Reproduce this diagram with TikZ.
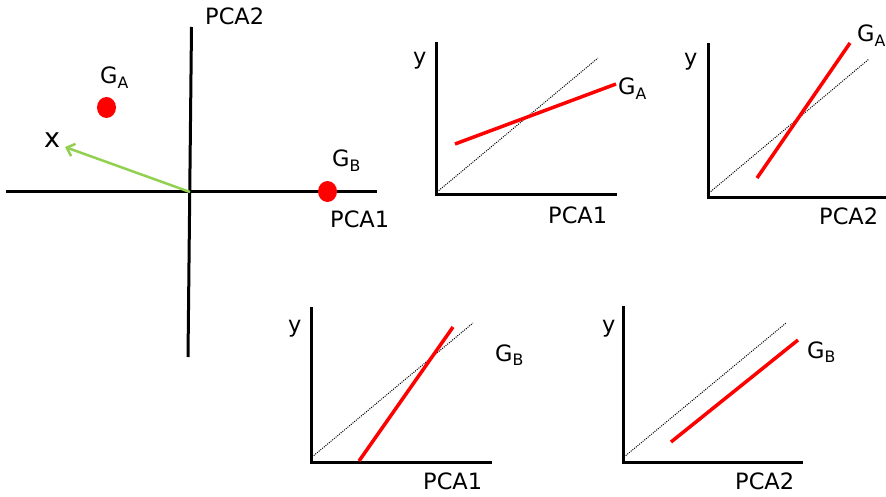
\documentclass[tikz,border=0pt]{standalone}
\usepackage{fontspec}
\setmainfont{DejaVu Sans}
\usetikzlibrary{arrows.meta}
\definecolor{arrowgreen}{RGB}{146,208,80}
\definecolor{dotred}{RGB}{255,0,0}
\tikzset{
  axisline/.style={line width=3pt, black},
  redline/.style={line width=3.5pt, dotred},
  diagline/.style={line width=1pt, dash pattern=on 1pt off 1.2pt, black},
  lbl/.style={anchor=base west, inner sep=0pt, font=\fontsize{22.5}{26}\selectfont},
  dotmark/.style={fill=dotred, draw=none},
}
\begin{document}
\begin{tikzpicture}[x=1pt,y=-1pt]
\useasboundingbox (0,0) rectangle (886,497);
% ---- main PCA plot ----
\coordinate (vt) at (191.5,27);
\coordinate (vb) at (188,357);
\coordinate (hl) at (6,192);
\coordinate (hr) at (377,192);
\coordinate (o) at (190,192);
\coordinate (xt) at (65,147);
\draw[axisline] (vt) -- (vb);
\draw[axisline] (hl) -- (hr);
\draw[arrowgreen, line width=2.5pt, -{Straight Barb[length=7pt,width=13pt]}] (o) -- (xt);
\node[lbl, font=\fontsize{27}{30}\selectfont] (xl) at (44,148) {x};
\fill[dotmark] (106.5,107.5) ellipse [x radius=9.5, y radius=10.5];
\fill[dotmark] (327.5,191.5) ellipse [x radius=9.5, y radius=10.5];
\node[lbl] (ga0) at (100,84) {G\textsubscript{A}};
\node[lbl] (gb0) at (332,167) {G\textsubscript{B}};
\node[lbl] (p2m) at (205,25) {PCA2};
\node[lbl] (p1m) at (330,228) {PCA1};
% ---- plot 2: y vs PCA1, G_A ----
\coordinate (a2t) at (436,42);
\coordinate (a2o) at (436,194.5);
\coordinate (a2r) at (617,194.5);
\draw[axisline] (a2t) -- (a2o) -- (a2r);
\coordinate (d2s) at (437,192);
\coordinate (d2e) at (598,58);
\draw[diagline] (d2s) -- (d2e);
\coordinate (r2s) at (455,144);
\coordinate (r2e) at (616,84);
\draw[redline] (r2s) -- (r2e);
\node[lbl] (ga2) at (618,95) {G\textsubscript{A}};
\node[lbl] (y2) at (413,65) {y};
\node[lbl] (p1b) at (548,224) {PCA1};
% ---- plot 3: y vs PCA2, G_A ----
\coordinate (a3t) at (708,43);
\coordinate (a3o) at (708,198);
\coordinate (a3r) at (886,198);
\draw[axisline] (a3t) -- (a3o) -- (a3r);
\coordinate (d3s) at (709,193);
\coordinate (d3e) at (869,59);
\draw[diagline] (d3s) -- (d3e);
\coordinate (r3s) at (757,178);
\coordinate (r3e) at (850,43);
\draw[redline] (r3s) -- (r3e);
\node[lbl] (ga3) at (857,42) {G\textsubscript{A}};
\node[lbl] (y3) at (684,66) {y};
\node[lbl] (p2b) at (819,225) {PCA2};
% ---- plot 4: y vs PCA1, G_B ----
\coordinate (a4t) at (311,307);
\coordinate (a4o) at (311,462);
\coordinate (a4r) at (492,462);
\draw[axisline] (a4t) -- (a4o) -- (a4r);
\coordinate (d4s) at (312,457);
\coordinate (d4e) at (473,323);
\draw[diagline] (d4s) -- (d4e);
\coordinate (r4s) at (359,461);
\coordinate (r4e) at (453,327);
\draw[redline] (r4s) -- (r4e);
\node[lbl] (gb4) at (495,361) {G\textsubscript{B}};
\node[lbl] (y4) at (288,332) {y};
\node[lbl] (p1c) at (423,489) {PCA1};
% ---- plot 5: y vs PCA2, G_B ----
\coordinate (a5t) at (623,306);
\coordinate (a5o) at (623,462);
\coordinate (a5r) at (803,462);
\draw[axisline] (a5t) -- (a5o) -- (a5r);
\coordinate (d5s) at (624,457);
\coordinate (d5e) at (786,323);
\draw[diagline] (d5s) -- (d5e);
\coordinate (r5s) at (671,442);
\coordinate (r5e) at (798,340);
\draw[redline] (r5s) -- (r5e);
\node[lbl] (gb5) at (807,358) {G\textsubscript{B}};
\node[lbl] (y5) at (602,332) {y};
\node[lbl] (p2c) at (735,489) {PCA2};
\end{tikzpicture}
\end{document}
